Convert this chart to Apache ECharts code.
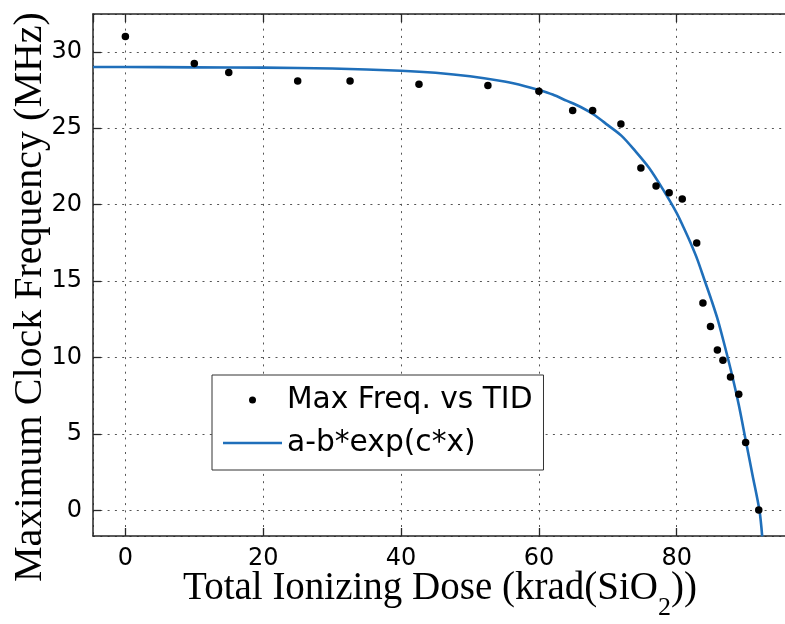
<!DOCTYPE html>
<html>
<head>
<meta charset="utf-8">
<script src="https://cdn.jsdelivr.net/npm/echarts@6/dist/echarts.min.js"></script>
<style>html,body{margin:0;padding:0;background:#fff}#c{width:785px;height:624px}</style>
</head>
<body>
<div id="c"></div>
<script>
// Measured data: Max Freq. vs TID
var doseX = [0, 10, 15, 25, 32.6, 42.6, 52.6, 60, 64.9, 67.8, 71.9, 74.8, 77.0, 78.9, 80.8, 82.9, 83.8, 84.9, 85.9, 86.7, 87.8, 89.0, 90.0, 91.9];
var freqY = [31.0, 29.23, 28.64, 28.08, 28.08, 27.88, 27.79, 27.42, 26.16, 26.16, 25.28, 22.4, 21.22, 20.77, 20.37, 17.49, 13.57, 12.02, 10.49, 9.82, 8.73, 7.59, 4.43, 0.02];
// Fitted curve a-b*exp(c*x)
var fitX = [-4.7, 0, 10, 20, 30, 40, 45, 50, 55, 58, 60, 62, 64, 66, 68, 70, 72, 74, 76, 78, 80, 81, 82, 83, 84, 85, 86, 87, 88, 89, 90, 91, 92, 92.4];
var fitY = [29.0, 29.0, 28.98, 28.96, 28.9, 28.76, 28.63, 28.4, 28.05, 27.75, 27.5, 27.2, 26.8, 26.4, 25.88, 25.2, 24.5, 23.5, 22.4, 21.0, 19.45, 18.5, 17.5, 16.4, 15.1, 13.8, 12.4, 10.7, 8.9, 6.9, 4.6, 2.3, 0.0, -1.7];
var seriesNames = ['Max Freq. vs TID', 'a-b*exp(c*x)'];
var xTitle = '{m|Total Ionizing Dose (krad(SiO}{s|2}{m|))}';
var yTitle = 'Maximum Clock Frequency (MHz)';

var sans = 'DejaVu Sans';
var serif = 'Liberation Serif';
var axisColor = '#262626';
var gridLine = {show: true, lineStyle: {color: '#555', type: [2, 5.3], width: 1}};

function pairs(xs, ys) { return xs.map(function (x, i) { return [x, ys[i]]; }); }

var chart = echarts.init(document.getElementById('c'), null, {renderer: 'canvas'});
chart.setOption({
  animation: false,
  backgroundColor: '#fff',
  grid: {left: 93, top: 14, right: -2, bottom: 88, containLabel: false, outerBoundsMode: 'none'},
  xAxis: [{
    type: 'value', min: -4.7, max: 96, splitNumber: 5,
    axisLine: {show: true, onZero: false, lineStyle: {color: axisColor, width: 1.5}},
    axisTick: {show: true, inside: true, length: 8, lineStyle: {color: axisColor, width: 1.3}},
    axisLabel: {show: true, showMinLabel: false, showMaxLabel: false, fontFamily: sans, fontSize: 24, color: '#000', margin: 11},
    splitLine: gridLine,
    name: xTitle, nameLocation: 'middle', nameGap: 33, nameMoveOverlap: false,
    nameTextStyle: {
      rich: {
        m: {fontFamily: serif, fontSize: 39, color: '#000', verticalAlign: 'top', lineHeight: 39},
        s: {fontFamily: serif, fontSize: 26, color: '#000', verticalAlign: 'top', lineHeight: 26, padding: [26, 0, 0, 0]}
      }
    }
  }, {
    type: 'value', position: 'top', min: -4.7, max: 96, splitNumber: 5,
    axisLine: {show: true, onZero: false, lineStyle: {color: axisColor, width: 1.5}},
    axisTick: {show: true, inside: true, length: 8, lineStyle: {color: axisColor, width: 1.3}},
    axisLabel: {show: false},
    splitLine: {show: false}
  }],
  yAxis: {
    type: 'value', min: -1.68, max: 32.47, splitNumber: 7,
    axisLine: {show: true, onZero: false, lineStyle: {color: axisColor, width: 1.5}},
    axisTick: {show: true, inside: true, length: 8, lineStyle: {color: axisColor, width: 1.3}},
    axisLabel: {show: true, showMinLabel: false, showMaxLabel: false, fontFamily: sans, fontSize: 24, color: '#000', margin: 11},
    splitLine: gridLine,
    name: yTitle, nameLocation: 'middle', nameGap: 43, nameMoveOverlap: false,
    nameTextStyle: {fontFamily: serif, fontSize: 40, color: '#000', padding: [0, 44, 0, 0]}
  },
  legend: {
    show: true, orient: 'vertical', left: 212, top: 375,
    backgroundColor: '#fff', borderColor: '#333', borderWidth: 1,
    padding: [10, 11, 12, 11], itemGap: 13, itemWidth: 59, itemHeight: 7, itemTextGap: 6,
    textStyle: {fontFamily: sans, fontSize: 29.7, color: '#000'},
    data: [
      {name: seriesNames[0], icon: 'circle', itemStyle: {color: '#000', opacity: 1}},
      {name: seriesNames[1], icon: 'path://M0 0H59V2.6H0Z', itemStyle: {color: '#1f6fba'}}
    ]
  },
  series: [{
    name: seriesNames[0], type: 'scatter', xAxisIndex: 0,
    data: pairs(doseX, freqY), symbol: 'circle', symbolSize: 7.5,
    itemStyle: {color: '#000', opacity: 1}, z: 3
  }, {
    name: seriesNames[1], type: 'line', xAxisIndex: 0,
    data: pairs(fitX, fitY), symbol: 'none', showSymbol: false, smooth: 0.3,
    lineStyle: {color: '#1f6fba', width: 2.6}, itemStyle: {color: '#1f6fba'}, z: 2, clip: true
  }]
});
</script>
</body>
</html>
